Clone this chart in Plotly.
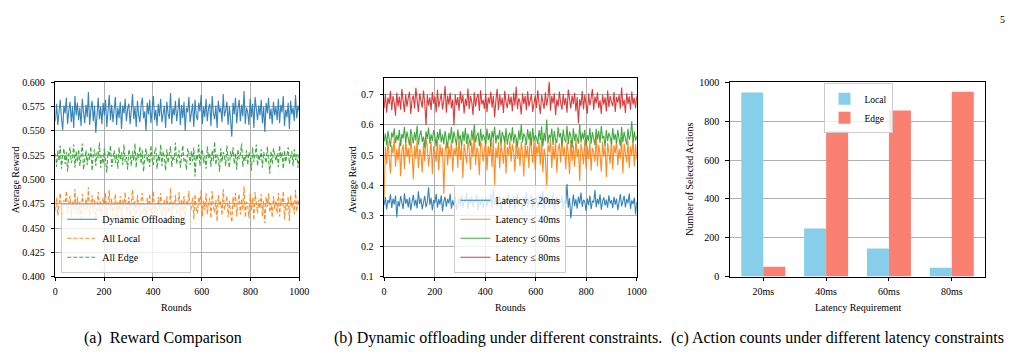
import numpy as np
import plotly.graph_objects as go

# ---------------- data (values in thousandths) ----------------
rounds = np.linspace(0, 1000, 200)

dyn_offload = [
560,578,556,574,582,563,551,576,568,584,557,571,580,559,575,553,586,566,579,561,
574,555,583,569,558,577,564,590,556,572,581,560,576,548,570,584,562,575,557,579,
566,582,554,573,587,561,577,559,569,585,556,574,563,580,552,576,568,583,560,573,
578,557,571,588,562,575,554,581,566,559,577,584,563,570,550,579,567,582,558,574,
586,561,572,555,578,565,583,559,571,576,553,580,568,562,589,557,574,566,581,560,
571,584,556,577,563,580,550,574,569,585,559,572,578,554,582,566,561,579,570,587,
557,575,564,583,560,573,578,555,586,568,562,576,553,581,569,574,559,588,565,571,
580,556,575,562,544,579,567,584,558,573,582,560,577,565,591,557,574,569,556,583,
564,578,553,585,570,561,576,566,582,558,575,549,579,568,584,562,573,557,580,566,
575,561,583,558,577,569,586,555,572,564,579,552,581,567,574,560,587,563,576,570]

all_local = [
468,481,463,477,486,470,459,479,473,488,465,476,483,461,478,470,490,467,482,464,
477,460,485,472,466,480,469,492,463,475,484,467,479,458,474,487,465,478,462,481,
471,486,460,476,489,466,480,463,473,485,461,477,468,483,457,479,472,487,464,476,
482,462,474,489,467,478,460,484,471,463,480,486,466,473,456,481,470,485,462,477,
488,465,475,459,482,469,486,463,474,479,458,483,471,466,491,462,477,470,484,464,
475,487,461,480,467,483,455,478,473,488,463,476,481,459,485,470,465,482,474,489,
462,478,468,486,464,476,481,460,488,472,466,479,457,484,473,477,463,490,469,475,
483,461,478,466,456,482,471,486,462,476,485,464,480,469,493,461,477,473,460,485,
468,481,458,487,474,465,479,470,485,462,478,455,482,472,486,466,476,461,483,470,
478,465,486,462,480,473,488,459,475,468,482,457,484,471,477,464,489,467,479,474]

all_edge = [
527,513,530,519,535,511,524,532,516,528,508,526,533,517,521,536,512,529,518,531,
514,525,537,510,523,530,515,527,520,534,509,526,531,514,528,522,538,512,525,516,
532,519,507,529,524,535,513,521,530,517,526,511,533,520,528,515,536,518,523,510,
531,525,514,529,519,537,512,527,522,534,516,530,508,524,532,518,526,513,535,520,
515,528,533,511,525,519,536,514,529,522,509,531,517,527,534,513,524,520,538,516,
523,530,512,526,535,518,521,510,532,527,515,529,519,533,503,525,520,536,514,528,
531,517,524,511,534,522,527,513,530,519,539,515,526,521,508,532,518,528,524,514,
535,520,512,529,523,533,516,527,510,531,521,526,537,513,524,519,530,515,528,522,
509,533,518,526,536,514,525,520,531,512,528,523,517,534,521,506,529,516,532,524,
519,527,513,535,522,528,511,530,518,525,533,516,524,529,514,531,520,526,512,527]

lat20 = [
335,362,321,352,342,371,326,357,338,367,296,349,331,365,344,323,374,340,356,328,
361,318,347,369,333,354,325,381,339,358,322,350,366,329,345,394,336,360,319,352,
343,372,327,355,337,368,315,348,363,330,356,341,373,324,351,334,364,320,347,359,
332,369,326,353,344,376,321,358,338,363,329,352,346,370,317,355,335,361,327,349,
366,331,356,342,374,324,390,336,359,328,351,367,319,348,362,333,357,340,371,325,
352,338,365,322,349,373,330,356,343,317,363,335,378,328,354,345,369,321,350,337,
360,326,347,372,334,383,320,357,341,366,329,352,336,375,318,349,362,331,356,343,
368,323,351,339,405,327,359,292,346,370,333,355,324,364,340,377,330,353,347,316,
358,335,367,322,350,344,385,329,356,338,371,320,348,361,334,354,327,368,341,352,
325,363,337,357,319,350,372,331,346,366,328,355,342,374,323,351,339,360,305,347]

lat40 = [
360,528,471,547,492,440,533,505,556,462,521,483,542,431,513,535,455,551,494,524,
472,561,509,420,532,488,549,458,520,505,444,539,481,557,526,463,502,545,437,530,
509,478,553,450,536,495,524,372,512,544,467,530,489,551,446,523,500,539,457,562,
484,528,425,537,505,473,549,517,452,541,493,566,468,525,511,434,546,529,479,509,
552,450,530,497,540,461,557,398,524,490,544,456,533,508,472,563,439,527,501,548,
479,536,512,445,555,488,526,464,544,507,430,540,492,531,458,560,516,475,549,451,
529,503,543,469,558,443,522,494,385,535,510,553,457,531,486,546,442,518,539,476,
561,497,528,454,542,505,437,550,481,533,462,556,493,521,415,538,511,470,552,455,
530,488,547,449,524,509,478,565,463,535,502,446,545,495,527,428,541,513,472,555,
453,533,506,551,466,520,489,560,440,538,508,476,546,457,529,498,553,463,536,487]

lat60 = [
545,571,533,580,552,527,575,558,589,540,566,548,584,530,570,555,594,541,578,550,
532,586,560,539,576,549,598,535,565,582,544,561,525,579,554,591,538,569,547,583,
562,529,576,551,587,542,568,536,580,558,524,574,550,593,540,578,559,533,585,553,
566,528,579,546,590,537,571,555,531,583,549,600,542,564,575,530,587,547,569,557,
536,588,550,573,527,580,556,594,539,567,552,584,531,577,559,543,589,535,565,574,
546,592,539,570,554,526,582,550,601,542,572,560,534,586,551,579,532,590,547,566,
557,537,583,550,595,529,575,546,618,538,568,555,588,533,580,551,541,592,559,573,
532,585,553,543,597,536,578,562,525,589,547,571,556,538,603,541,575,552,584,530,
566,547,590,538,576,559,533,587,551,580,540,596,555,564,528,583,546,574,560,536,
590,550,570,539,584,554,531,593,543,577,558,535,587,551,567,612,541,579,548,563]

lat80 = [
655,702,640,690,668,712,648,695,673,630,706,661,693,650,718,670,642,700,660,688,
709,636,683,697,654,722,666,643,703,679,657,713,672,600,699,663,691,649,708,670,
694,641,716,659,686,703,651,680,728,640,697,667,706,655,684,598,701,664,692,647,
711,671,698,638,686,662,720,652,695,676,633,707,660,690,701,646,714,668,682,653,
704,642,691,670,709,657,696,625,679,719,649,700,664,690,639,712,673,655,699,667,
693,645,706,663,726,652,688,674,634,704,668,696,648,711,661,686,701,643,680,697,
656,714,670,636,699,680,653,707,663,692,742,647,695,671,704,632,684,660,710,672,
650,702,666,689,640,716,675,654,697,668,706,645,692,605,685,661,711,651,698,674,
637,703,664,688,718,649,693,671,707,655,681,636,700,667,691,644,713,658,696,675,
662,708,643,692,673,699,653,723,662,683,639,704,669,694,650,710,667,689,655,697]

latency_cats = ["20ms", "40ms", "60ms", "80ms"]
local_counts = [948, 248, 144, 46]
edge_counts = [50, 751, 855, 952]

# ---------------- styling ----------------
FONT = "'Liberation Serif', 'Times New Roman', Times, serif"
W, H = 1025, 356
BLUE, ORANGE, GREEN, RED = "#1f77b4", "#ff7f0e", "#2ca02c", "#d62728"

def px(x):
    return x / W

def py(y):
    return 1 - y / H

def scale(v):
    return [a / 1000 for a in v]

fig = go.Figure()

# panel (a)
for name, vals, col, dash in [
    ("Dynamic Offloading", dyn_offload, BLUE, "solid"),
    ("All Local", all_local, ORANGE, "4px,2px"),
    ("All Edge", all_edge, GREEN, "4px,2px"),
]:
    fig.add_trace(go.Scatter(x=rounds, y=scale(vals), mode="lines", name=name,
                             line=dict(color=col, width=1.1, dash=dash), opacity=0.9,
                             xaxis="x", yaxis="y", legend="legend"))

# panel (b)
for name, vals, col in [
    ("Latency ≤ 20ms", lat20, BLUE),
    ("Latency ≤ 40ms", lat40, ORANGE),
    ("Latency ≤ 60ms", lat60, GREEN),
    ("Latency ≤ 80ms", lat80, RED),
]:
    fig.add_trace(go.Scatter(x=rounds, y=scale(vals), mode="lines", name=name,
                             line=dict(color=col, width=1.1), opacity=0.9,
                             xaxis="x2", yaxis="y2", legend="legend2"))

# panel (c)
idx = list(range(len(latency_cats)))
fig.add_trace(go.Bar(x=idx, y=local_counts, name="Local", width=0.35, offset=-0.35,
                     marker=dict(color="#87CEEB", line=dict(width=0)),
                     xaxis="x3", yaxis="y3", legend="legend3"))
fig.add_trace(go.Bar(x=idx, y=edge_counts, name="Edge", width=0.35, offset=0,
                     marker=dict(color="#FA8072", line=dict(width=0)),
                     xaxis="x3", yaxis="y3", legend="legend3"))

axis_common = dict(showline=True, mirror=True, linecolor="black", linewidth=1,
                   ticks="outside", ticklen=3.5, tickcolor="black", tickwidth=1,
                   gridcolor="#b0b0b0", gridwidth=0.8, zeroline=False,
                   tickfont=dict(family=FONT, size=10, color="black"))
xax = dict(ticklabelstandoff=2, **axis_common)
yax = dict(ticklabelstandoff=4, **axis_common)

top_a, bot = 79, 280
top_b = 75

legend_common = dict(bgcolor="rgba(255,255,255,0.8)", bordercolor="#cccccc", borderwidth=1,
                     font=dict(family=FONT, size=10, color="black"),
                     itemwidth=30, tracegroupgap=0)

fig.update_layout(
    width=W, height=H, margin=dict(l=0, r=0, t=0, b=0),
    paper_bgcolor="white", plot_bgcolor="white", barmode="overlay",
    font=dict(family=FONT, color="black"),
    xaxis=dict(domain=[px(53), px(300)], range=[0, 1000], anchor="y",
               tickvals=[0, 200, 400, 600, 800, 1000], showgrid=True, **xax),
    yaxis=dict(domain=[py(bot), py(top_a)], range=[0.4, 0.6], anchor="x",
               tickvals=[0.4, 0.425, 0.45, 0.475, 0.5, 0.525, 0.55, 0.575, 0.6],
               tickformat=".3f", showgrid=True, **yax),
    xaxis2=dict(domain=[px(386), px(642)], range=[0, 1000], anchor="y2",
                tickvals=[0, 200, 400, 600, 800, 1000], showgrid=True, **xax),
    yaxis2=dict(domain=[py(bot), py(top_b)], range=[0.1, 0.753], anchor="x2",
                tickvals=[0.1, 0.2, 0.3, 0.4, 0.5, 0.6, 0.7], tickformat=".1f",
                showgrid=True, **yax),
    xaxis3=dict(domain=[px(736), px(995)], range=[-0.535, 3.535], anchor="y3",
                tickvals=idx, ticktext=latency_cats, showgrid=False, **xax),
    yaxis3=dict(domain=[py(bot), py(top_a)], range=[0, 1000], anchor="x3",
                tickvals=[0, 200, 400, 600, 800, 1000], showgrid=True, **yax),
    legend=dict(x=px(59), y=py(276), xanchor="left", yanchor="bottom", **legend_common),
    legend2=dict(x=px(514), y=py(276), xanchor="center", yanchor="bottom", **legend_common),
    legend3=dict(x=px(866), y=py(80), xanchor="center", yanchor="top",
                 **{**legend_common, "font": dict(family=FONT, size=9.5, color="black")}),
    showlegend=True,
)

ann = []
lab = dict(family=FONT, size=10, color="black")
for xx, txt in [(176, "Rounds"), (514, "Rounds"), (866, "Latency Requirement")]:
    ann.append(dict(x=px(xx), y=py(312), xref="paper", yref="paper", text=txt,
                    showarrow=False, font=lab, xanchor="center", yanchor="middle"))
for xx, txt in [(13, "Average Reward"), (354, "Average Reward"), (695, "Number of Selected Actions")]:
    ann.append(dict(x=px(xx), y=py(179.5), xref="paper", yref="paper", text=txt,
                    showarrow=False, font=lab, textangle=-90,
                    xanchor="center", yanchor="middle"))
cap = dict(family=FONT, size=16, color="black")
ann.append(dict(x=px(80), y=py(344), xref="paper", yref="paper", text="(a)  Reward Comparison",
                showarrow=False, font=cap, xanchor="left", yanchor="middle"))
ann.append(dict(x=px(333), y=py(344), xref="paper", yref="paper",
                text="(b) Dynamic offloading under different constraints.",
                showarrow=False, font=cap, xanchor="left", yanchor="middle"))
ann.append(dict(x=px(675), y=py(344), xref="paper", yref="paper",
                text="(c) Action counts under different latency constraints",
                showarrow=False, font=cap, xanchor="left", yanchor="middle"))
ann.append(dict(x=px(1012), y=py(14), xref="paper", yref="paper", text="5",
                showarrow=False, font=dict(family=FONT, size=10, color="black"),
                xanchor="center", yanchor="middle"))
fig.update_layout(annotations=ann)

fig.write_html("out.html")
